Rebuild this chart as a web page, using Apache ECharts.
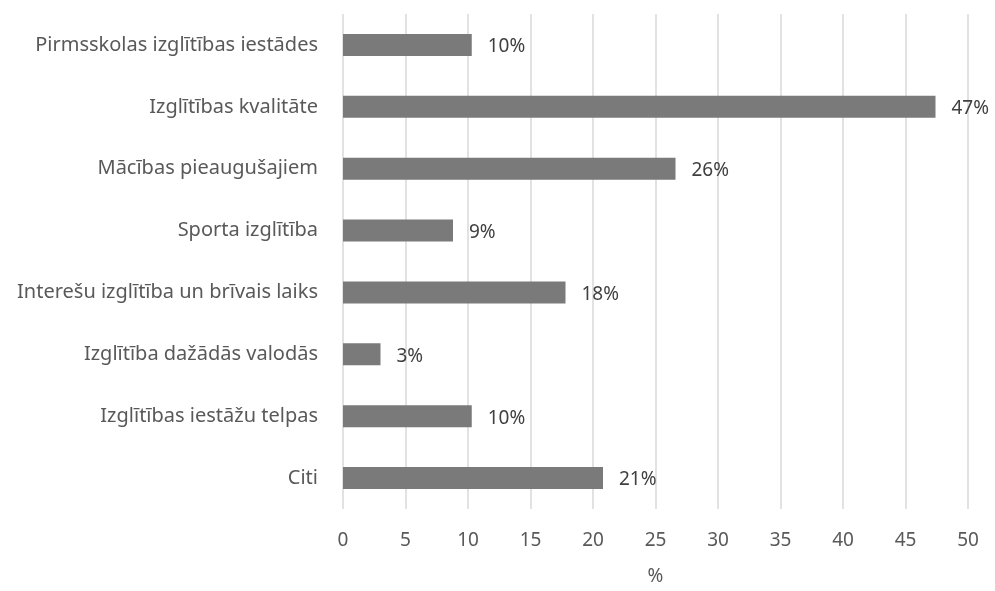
<!DOCTYPE html>
<html>
<head>
<meta charset="utf-8">
<script src="https://cdn.jsdelivr.net/npm/echarts@6/dist/echarts.min.js"></script>
<style>
html,body{margin:0;padding:0;background:#fff;}
#c{width:995px;height:591px;}
</style>
</head>
<body>
<div id="c"></div>
<script>
var categories = [
  "Pirmsskolas izglītības iestādes",
  "Izglītības kvalitāte",
  "Mācības pieaugušajiem",
  "Sporta izglītība",
  "Interešu izglītība un brīvais laiks",
  "Izglītība dažādās valodās",
  "Izglītības iestāžu telpas",
  "Citi"
];
var values = [10.3, 47.4, 26.6, 8.8, 17.8, 3.0, 10.3, 20.8];
var valueLabels = ["10%", "47%", "26%", "9%", "18%", "3%", "10%", "21%"];
var xTicks = [0, 5, 10, 15, 20, 25, 30, 35, 40, 45, 50];
var axisName = "%";

var font = "Noto Sans";
var chart = echarts.init(document.getElementById('c'), null, {renderer: 'canvas'});
chart.setOption({
  animation: false,
  backgroundColor: '#ffffff',
  grid: {left: 343, right: 27, top: 14, bottom: 79, containLabel: false},
  xAxis: {
    type: 'value',
    min: xTicks[0],
    max: xTicks[xTicks.length - 1],
    interval: xTicks[1] - xTicks[0],
    name: axisName,
    nameLocation: 'middle',
    nameGap: 58,
    nameTextStyle: {color: '#595959', fontSize: 19, fontFamily: font},
    axisLine: {show: false},
    axisTick: {show: false},
    splitLine: {show: true, lineStyle: {color: '#d9d9d9', width: 1.5}},
    axisLabel: {color: '#595959', fontSize: 19, fontFamily: font, margin: 22}
  },
  yAxis: {
    type: 'category',
    data: categories,
    inverse: true,
    axisLine: {show: false},
    axisTick: {show: false},
    axisLabel: {color: '#595959', fontSize: 20, fontFamily: font, margin: 25}
  },
  series: [{
    type: 'bar',
    data: values,
    barWidth: 22,
    itemStyle: {color: '#7a7a7a'},
    label: {
      show: true,
      position: 'right',
      distance: 16,
      offset: [0, 2],
      color: '#404040',
      fontSize: 19,
      fontFamily: font,
      formatter: function (p) { return valueLabels[p.dataIndex]; }
    }
  }]
});
</script>
</body>
</html>
